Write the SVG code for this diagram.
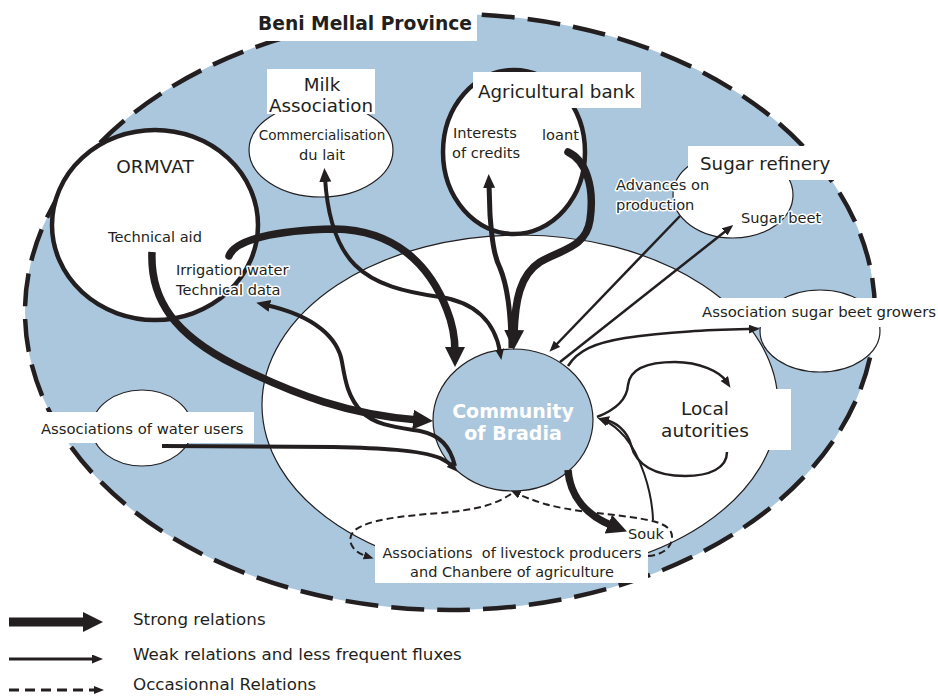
<svg xmlns="http://www.w3.org/2000/svg" width="938" height="696" viewBox="0 0 938 696">
<style>
.t{font-family:'DejaVu Sans',Verdana,sans-serif;fill:#231f20}
.s{font-size:14.6px}
.m{font-size:18.3px}
.halo{paint-order:stroke;stroke:#fff;stroke-width:3px;stroke-linejoin:round}
.node{fill:#fff;stroke:#231f20;stroke-width:1.2}
.thick{fill:#fff;stroke:#231f20;stroke-width:4.5}
.box{fill:#fff}
.c{fill:none;stroke:#231f20}
.strong{stroke-width:7.5}
.mid{stroke-width:4}
.thin{stroke-width:2.5}
.dash{stroke-width:2;stroke-dasharray:7 4}
</style>
<defs>
<marker id="aBig" markerUnits="userSpaceOnUse" markerWidth="22" markerHeight="22" refX="5" refY="10" orient="auto"><path d="M0,0 L20,10 L0,20 z" fill="#231f20"/></marker>
<marker id="aMid" markerUnits="userSpaceOnUse" markerWidth="16" markerHeight="14" refX="4" refY="6" orient="auto-start-reverse"><path d="M0,0 L14,6 L0,12 z" fill="#231f20"/></marker>
<marker id="aSmall" markerUnits="userSpaceOnUse" markerWidth="13" markerHeight="11" refX="3" refY="4.5" orient="auto"><path d="M0,0 L11,4.5 L0,9 z" fill="#231f20"/></marker>
<marker id="aDash" markerUnits="userSpaceOnUse" markerWidth="12" markerHeight="10" refX="2" refY="4" orient="auto"><path d="M0,0 L10,4 L0,8 z" fill="#231f20"/></marker>
</defs>
<rect width="938" height="696" fill="#fff"/>
<g id="province">
<ellipse cx="450" cy="312" rx="425" ry="298" fill="#abc7de" stroke="#231f20" stroke-width="4.5" stroke-dasharray="33 13"/>
<ellipse cx="520" cy="405" rx="258" ry="170" class="node"/>
<rect x="257" y="8" width="220" height="33" class="box"/>
<text x="258" y="30" class="t" font-size="19" font-weight="bold" textLength="214" lengthAdjust="spacingAndGlyphs">Beni Mellal Province</text>
</g>
<g id="ormvat">
<ellipse cx="155" cy="225" rx="103" ry="95" class="thick" stroke-width="4"/>
<text x="155" y="173" class="t" font-size="18.5" text-anchor="middle">ORMVAT</text>
<text x="155" y="242" class="t s" text-anchor="middle">Technical aid</text>
</g>
<g id="milk">
<ellipse cx="321" cy="150" rx="72" ry="47" class="node"/>
<rect x="267" y="69" width="108" height="45" class="box"/>
<text x="322" y="91" class="t m" text-anchor="middle">Milk</text>
<text x="321" y="112" class="t m" text-anchor="middle">Association</text>
<text x="322" y="140" class="t" font-size="13.6" text-anchor="middle">Commercialisation</text>
<text x="322" y="160" class="t s" text-anchor="middle">du lait</text>
</g>
<g id="bank">
<ellipse cx="514" cy="152" rx="71" ry="82" class="thick"/>
<rect x="473" y="72" width="168" height="36" class="box"/>
<text x="478" y="98" class="t m">Agricultural bank</text>
<text x="453" y="138" class="t s">Interests</text>
<text x="452" y="158" class="t s">of credits</text>
<text x="542" y="140" class="t s">loant</text>
</g>
<g id="sugar">
<ellipse cx="733" cy="195" rx="60" ry="43" class="node"/>
<rect x="688" y="146" width="147" height="34" class="box"/>
<text x="700" y="170" class="t m">Sugar refinery</text>
<text x="741" y="223" class="t s halo">Sugar beet</text>
</g>
<g id="growers">
<ellipse cx="820" cy="331" rx="60" ry="41" class="node"/>
<rect x="700" y="298" width="238" height="29" class="box"/>
<text x="702" y="317" class="t" font-size="14.9">Association sugar beet growers</text>
</g>
<g id="water">
<ellipse cx="142" cy="428" rx="50" ry="38" class="node"/>
<rect x="37" y="412" width="217" height="31" class="box"/>
<text x="41" y="434" class="t" font-size="14.8">Associations of water users</text>
</g>
<g id="local">
<rect x="690" y="389" width="101" height="61" class="box"/>
<text x="705" y="415" class="t" font-size="18.5" text-anchor="middle">Local</text>
<text x="705" y="437" class="t" font-size="18.5" text-anchor="middle">autorities</text>
</g>
<g id="livestock">
<rect x="375" y="545" width="273" height="38" class="box"/>
<text x="512" y="558" class="t" font-size="14.5" text-anchor="middle">Associations&#160; of livestock producers</text>
<text x="512" y="577" class="t" font-size="14.5" text-anchor="middle">and Chanbere of agriculture</text>
</g>
<g id="community">
<ellipse cx="513" cy="420" rx="80" ry="71" fill="#abc7de" stroke="#231f20" stroke-width="1.2"/>
<text x="513" y="418" font-family="'DejaVu Sans',Verdana,sans-serif" font-size="19" font-weight="bold" fill="#fff" text-anchor="middle">Community</text>
<text x="513" y="440" font-family="'DejaVu Sans',Verdana,sans-serif" font-size="19" font-weight="bold" fill="#fff" text-anchor="middle">of Bradia</text>
</g>
<g id="connectors">
<path class="c strong" marker-end="url(#aBig)" d="M152,252 C150,300 175,335 235,365 C295,395 350,415 418,420"/>
<path class="c strong" stroke-linecap="round" marker-end="url(#aBig)" d="M229,256 C235,240 275,230 335,229 C395,230 430,265 447,310 C453,325 455,340 455,352"/>
<path class="c strong" stroke-linecap="round" marker-end="url(#aBig)" d="M568,152 C585,160 595,185 590,220 C586,248 560,250 540,262 C520,275 515,300 514,335"/>
<path class="c" stroke-width="5" marker-end="url(#aMid)" d="M511,348 C511,315 507,285 500,268 C494,256 492,240 490,215 L489,184"/>
<path class="c mid" marker-start="url(#aMid)" marker-end="url(#aSmall)" d="M325,178 C327,210 335,245 355,265 C375,285 405,292 440,297 C475,302 495,322 500,352"/>
<path class="c mid" marker-end="url(#aMid)" d="M455,466 C450,446 440,435 420,431 C395,427 375,425 362,412 C348,398 345,380 342,362 C338,338 315,316 266,305"/>
<path class="c mid" marker-end="url(#aSmall)" d="M162,446 L333,447 C380,448 420,450 440,458 C446,461 450,464 452,466"/>
<path class="c thin" marker-end="url(#aSmall)" d="M680,216 L555,346"/>
<path class="c thin" marker-end="url(#aSmall)" d="M560,362 L727,230"/>
<path class="c thin" marker-end="url(#aSmall)" d="M568,366 C578,350 595,343 625,338 C670,331 715,330 752,329"/>
<path class="c thin" marker-end="url(#aSmall)" d="M597,417 C615,410 627,400 628,385 C630,368 650,362 675,362 C700,362 720,372 726,381"/>
<path class="c thin" marker-end="url(#aSmall)" d="M727,452 C727,468 710,476 685,476 C655,476 636,465 631,445 C627,430 615,422 606,420"/>
<path class="c" stroke-width="2" marker-end="url(#aSmall)" d="M653,520 C652,490 640,455 625,437 C617,428 610,423 605,421"/>
<path class="c strong" marker-end="url(#aBig)" d="M568,470 C570,495 585,515 613,526"/>
<path class="c dash" marker-end="url(#aDash)" d="M648,556 C662,555 672,548 672,537 C672,526 660,521 630,517 C600,513 570,511 545,504 C532,500 522,496 518,494"/>
<path class="c dash" marker-end="url(#aDash)" d="M511,494 C495,505 475,510 440,513 C400,516 368,520 355,530 C346,538 350,551 366,556"/>
</g>
<g id="connector-labels">
<text x="176" y="275" class="t s halo">Irrigation water</text>
<text x="176" y="295" class="t s halo">Technical data</text>
<text x="616" y="190" class="t s halo">Advances on</text>
<text x="616" y="210" class="t s halo">production</text>
<text x="628" y="539" class="t s">Souk</text>
</g>
<g id="legend">
<path class="c" stroke-width="9" marker-end="url(#aBig)" d="M9,622 L88,622"/>
<path class="c" stroke-width="3" marker-end="url(#aSmall)" d="M9,659 L95,659"/>
<path class="c" stroke-width="3" stroke-dasharray="10 6" marker-end="url(#aDash)" d="M9,690 L96,690"/>
<text x="133" y="625" class="t" font-size="16.7">Strong relations</text>
<text x="133" y="660" class="t" font-size="16.7">Weak relations and less frequent fluxes</text>
<text x="133" y="690" class="t" font-size="16.7">Occasionnal Relations</text>
</g>
</svg>
